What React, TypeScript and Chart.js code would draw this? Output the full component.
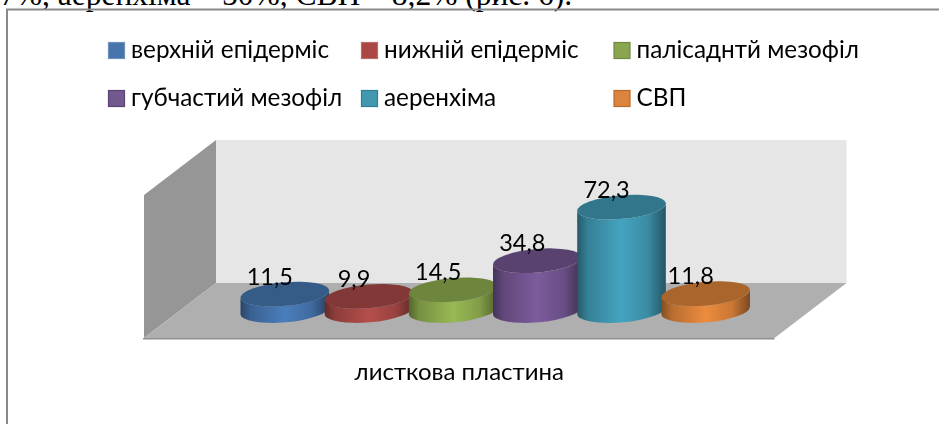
import React, { useEffect, useRef } from "react";
import { Chart, registerables } from "chart.js";

Chart.register(...registerables);

const categories = ["листкова пластина"];
const seriesNames = ["верхній епідерміс", "нижній епідерміс", "палісаднтй мезофіл", "губчастий мезофіл", "аеренхіма", "СВП"];
const seriesValues = [11.5, 9.9, 14.5, 34.8, 72.3, 11.8];
const valueLabels = ["11,5", "9,9", "14,5", "34,8", "72,3", "11,8"];
const bodyColors = ["#4a7ebb", "#b54e4b", "#98b954", "#7c5c9c", "#44a4c0", "#ec8c3e"];
const swatchFill = ["#4674ab", "#aa4643", "#89a54e", "#71588f", "#4198af", "#db843d"];
const swatchEdge = ["#6e90bd", "#c06a67", "#6f8a3e", "#5a4475", "#2d7f94", "#b86a2a"];
const headerText = "7%, аеренхіма – 50%, СВП – 8,2% (рис. 6).";

const FONT = 'Lato, "Noto Sans", sans-serif';
const DEPTH_X = 36;
const DEPTH_Y = 27.5;
const TILT = (-5 * Math.PI) / 180;
const RY = 11.8;

function shade(hex: string, k: number) {
  const n = parseInt(hex.slice(1), 16);
  const c = [(n >> 16) & 255, (n >> 8) & 255, n & 255].map((v) => Math.round(v * k));
  return `rgb(${c[0]},${c[1]},${c[2]})`;
}

function poly(ctx: CanvasRenderingContext2D, pts: number[][], fill: string) {
  ctx.beginPath();
  pts.forEach((p, i) => (i ? ctx.lineTo(p[0], p[1]) : ctx.moveTo(p[0], p[1])));
  ctx.closePath();
  ctx.fillStyle = fill;
  ctx.fill();
}

const scene3d = {
  id: "scene3d",
  beforeDraw(chart: any) {
    const { ctx, chartArea: a, width, height } = chart;
    ctx.save();
    ctx.strokeStyle = "#8a8a8a";
    ctx.lineWidth = 2;
    ctx.beginPath();
    ctx.moveTo(7, height + 2);
    ctx.lineTo(7, 9.5);
    ctx.lineTo(width + 2, 9.5);
    ctx.stroke();

    const bl = a.left + DEPTH_X, br = a.right + DEPTH_X;
    const bt = a.top - DEPTH_Y, bb = a.bottom - DEPTH_Y;
    const fl = a.left - DEPTH_X, fr = a.right - DEPTH_X;
    const ft = a.top + DEPTH_Y, fb = a.bottom + DEPTH_Y;
    poly(ctx, [[bl, bt], [br, bt], [br, bb], [bl, bb]], "#e6e6e6");
    poly(ctx, [[fl, ft], [bl, bt], [bl, bb], [fl, fb]], "#969696");
    poly(ctx, [[fl, fb], [bl, bb], [br, bb], [fr, fb]], "#afafaf");
    ctx.fillStyle = "#8f8f8f";
    ctx.fillRect(fl - 1, fb, fr - fl + 1, 1.5);

    // legend in three fixed columns
    const cols = [108.5, 361.5, 614];
    const rows = [50.5, 98.5];
    ctx.font = `24.3px ${FONT}`;
    ctx.textBaseline = "middle";
    ctx.textAlign = "left";
    chart.data.datasets.forEach((d: any, i: number) => {
      const x = cols[i % 3], y = rows[Math.floor(i / 3)];
      ctx.fillStyle = swatchFill[i];
      ctx.fillRect(x, y - 8, 16, 16);
      ctx.strokeStyle = swatchEdge[i];
      ctx.lineWidth = 1.2;
      ctx.strokeRect(x, y - 8, 16, 16);
      ctx.fillStyle = "#000";
      ctx.fillText(d.label, x + 22.5, y);
    });
    ctx.restore();
  },
  beforeDatasetDraw() {
    return false;
  },
  afterDatasetsDraw(chart: any) {
    const { ctx } = chart;
    ctx.save();
    const cos = Math.cos(TILT), sin = Math.sin(TILT);
    chart.data.datasets.forEach((d: any, i: number) => {
      const bar = chart.getDatasetMeta(i).data[0];
      const cx = bar.x, top = bar.y, base = bar.base;
      const rx = bar.width / 2;
      const dx = rx * cos, dy = rx * sin;
      const color = d.backgroundColor;
      const g = ctx.createLinearGradient(cx - dx, 0, cx + dx, 0);
      g.addColorStop(0, shade(color, 0.55));
      g.addColorStop(0.12, shade(color, 0.78));
      g.addColorStop(0.5, color);
      g.addColorStop(0.8, shade(color, 0.85));
      g.addColorStop(1, shade(color, 0.52));
      ctx.beginPath();
      ctx.ellipse(cx, base, rx, RY, TILT, 0, Math.PI);
      ctx.lineTo(cx - dx, top - dy);
      ctx.ellipse(cx, top, rx, RY, TILT, Math.PI, 0, true);
      ctx.lineTo(cx + dx, base + dy);
      ctx.closePath();
      ctx.fillStyle = g;
      ctx.fill();
      ctx.beginPath();
      ctx.ellipse(cx, top, rx, RY, TILT, 0, Math.PI * 2);
      ctx.fillStyle = shade(color, 0.72);
      ctx.fill();
    });
    ctx.font = `23.5px ${FONT}`;
    ctx.textAlign = "center";
    ctx.textBaseline = "middle";
    ctx.fillStyle = "#000";
    chart.data.datasets.forEach((_: any, i: number) => {
      const bar = chart.getDatasetMeta(i).data[0];
      ctx.fillText(valueLabels[i], bar.x - 15, bar.y - 17);
    });
    ctx.restore();
  },
};

export default function App() {
  const ref = useRef<HTMLCanvasElement>(null);
  useEffect(() => {
    const chart = new Chart(ref.current!, {
      type: "bar",
      data: {
        labels: categories,
        datasets: seriesNames.map((label, i) => ({
          label,
          data: [seriesValues[i]],
          backgroundColor: bodyColors[i],
          categoryPercentage: 0.801,
          barPercentage: 1.057,
        })),
      },
      options: {
        responsive: false,
        animation: false,
        layout: { padding: { left: 180, right: 128.5, top: 167.5, bottom: 0 } },
        plugins: { legend: { display: false }, tooltip: { enabled: false }, title: { display: false } },
        scales: {
          y: { display: false, min: 0, max: 100 },
          x: {
            grid: { display: false },
            border: { display: false },
            afterFit: (s: any) => {
              s.height = 113.5;
            },
            ticks: {
              color: "#000",
              padding: 39,
              labelOffset: -36,
              maxRotation: 0,
              font: { family: FONT, size: 24 },
            },
          },
        },
      },
      plugins: [scene3d],
    } as any);
    return () => chart.destroy();
  }, []);
  return (
    <div style={{ position: "fixed", left: 0, top: 0, width: 939, height: 424, overflow: "hidden", background: "#fff" }}>
      <div
        style={{
          position: "absolute",
          left: 0,
          top: -23,
          whiteSpace: "nowrap",
          font: '31.5px/36px "Liberation Serif", serif',
          color: "#000",
        }}
      >
        {headerText}
      </div>
      <canvas ref={ref} width={939} height={424} style={{ position: "absolute", left: 0, top: 0, display: "block" }} />
    </div>
  );
}
